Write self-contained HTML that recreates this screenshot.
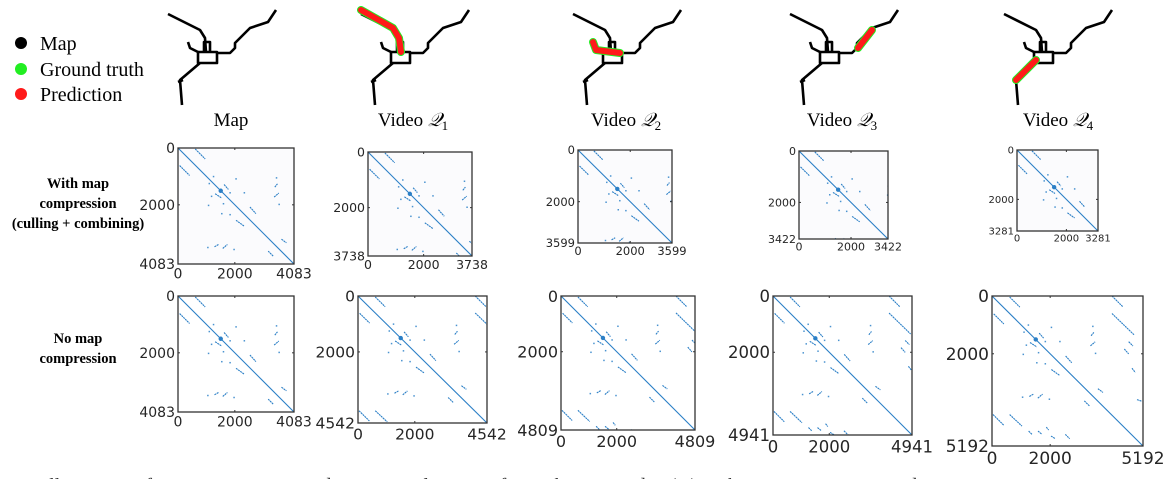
<!DOCTYPE html>
<html><head><meta charset="utf-8"><style>
html,body{margin:0;padding:0;background:#fff;}
svg{display:block;}
.serif{font-family:"Liberation Serif",serif;}
.tick{font-family:"DejaVu Sans","Liberation Sans",sans-serif;fill:#262626;}
</style></head><body>
<svg id="fig" width="1170" height="479" viewBox="0 0 1170 479" xmlns="http://www.w3.org/2000/svg">
<g>
  <circle cx="21" cy="43" r="6" fill="#000"/>
  <text class="serif" x="40" y="50" font-size="20">Map</text>
  <circle cx="21" cy="69" r="6" fill="#22ee22"/>
  <text class="serif" x="40" y="76" font-size="20">Ground truth</text>
  <circle cx="21" cy="94" r="6" fill="#ff1a1a"/>
  <text class="serif" x="40" y="101" font-size="20">Prediction</text>
</g>
<g class="serif" font-weight="bold" font-size="14.5" text-anchor="middle">
  <text x="78" y="188">With map</text>
  <text x="78" y="208">compression</text>
  <text x="78" y="228">(culling + combining)</text>
</g>
<g class="serif" font-weight="bold" font-size="14.5" text-anchor="middle">
  <text x="78" y="343">No map</text>
  <text x="78" y="363">compression</text>
</g>
<g id="maps"></g>
<g id="mats"></g>
<text class="serif" x="2" y="492" font-size="20" fill="#333">g. 3: Illustration of map compression and sequence alignment for each query video (Q) with map compression and</text>
</svg>
<script>
// ---- Data ----
const panelSizes = [4083, 3738, 3599, 3422, 3281, 4083, 4542, 4809, 4941, 5192];
const panelTitles = ["Map", "Video Q1", "Video Q2", "Video Q3", "Video Q4"];
const midTick = 2000;
// off-diagonal alignment segments in index units [x1,y1,x2,y2]
const segX1 = [607, 58, 1622, 1307, 3407, 3384, 2532, 2042, 1284, 1575, 3641, 3174, 4126, 4126, 4699, 4550, 4813, 4985, 34, 607, 1260, 1581, 1868, 2028, 2521];
const segY1 = [35, 618, 1284, 1610, 1377, 1727, 2077, 2544, 3478, 3536, 3209, 3629, 0, 607, 1581, 1834, 2498, 3587, 4103, 4103, 4675, 4675, 4538, 4847, 4790];
const segX2 = [957, 408, 1774, 1540, 3501, 3547, 2742, 2334, 1424, 1739, 3816, 3349, 4504, 4893, 4847, 4699, 4927, 5157, 401, 1031, 1375, 1719, 1948, 2177, 2670];
const segY2 = [385, 968, 1459, 1762, 1260, 1587, 2310, 2754, 3396, 3396, 3337, 3804, 378, 1352, 1730, 2005, 2647, 3644, 4469, 4504, 4790, 4790, 4641, 4939, 4939];
const dotX = [1249, 2042, 2334, 1832, 1540, 1832, 1074, 1599, 3559, 3466, 1050, 1972, 1100, 1180];
const dotY = [1004, 1085, 1575, 1575, 2310, 2345, 2019, 1960, 1984, 1050, 3501, 3571, 1250, 1700];
const blobIdx = 1505;

// ---- Layout (not data) ----
const boxes = [[178,148,116,116,14],[368,152,104,104,12.5],[578,150,94,93,11.5],[799,151,89,88,11],[1017,150,81,81,10],
               [178,296,116,116,14],[358,296,129,127,15.5],[561,296,134,134,16],[773,296,139,139,16.5],[992,296,151,150,17]];
const mapOffsets = [0, 193, 405, 622, 836];
const titleCenters = [231, 413, 626, 842, 1058];

const NS = "http://www.w3.org/2000/svg";
function el(tag, attrs, parent){const e=document.createElementNS(NS,tag);for(const k in attrs)e.setAttribute(k,attrs[k]);parent.appendChild(e);return e;}

// ---- road maps ----
const roads = [
 "M168,14 L200,30 L205,38 L206,52",
 "M204,52 L204,42 L210,42 L210,53",
 "M198,52 L217,52 L217,63 L198,63 Z",
 "M217,53 L230,53 L235,48 L235,43 L250,28 L268,22 L276,10",
 "M200,63 L180,80 L182,105",
 "M183,80 L178,82",
 "M188,42 L190,48 L198,52"
];
const overlays = [null,
 "M168,10 L200,28 L206,38 L208,52",
 "M188,42 L191,50 L215,53",
 "M236,48 L250,30",
 "M180,80 L200,60"];
const maps = document.getElementById('maps');
for(let i=0;i<5;i++){
  const g = el('g',{transform:`translate(${mapOffsets[i]},0)`},maps);
  
  
  roads.forEach(d=>el('path',{d:d,fill:'none',stroke:'#000','stroke-width':2.6,'stroke-linejoin':'round'},g));
  if(overlays[i]){
    el('path',{d:overlays[i],fill:'none',stroke:'#22ee22','stroke-width':8,'stroke-linecap':'round','stroke-linejoin':'round'},g);
    el('path',{d:overlays[i],fill:'none',stroke:'#ff1a1a','stroke-width':6,'stroke-linecap':'round','stroke-linejoin':'round'},g);
  }
  const t = el('text',{x:titleCenters[i],y:126,'font-size':19,'text-anchor':'middle','class':'serif'},maps);
  
  
  if(i===0){t.textContent='Map';}
  else{t.textContent='Video ';const s=el('tspan',{'font-style':'italic'},t);s.textContent='𝒬';const sub=el('tspan',{'font-size':13,dy:4},t);sub.textContent=String(i);}
}

// ---- matrices ----
const mats = document.getElementById('mats');
panelSizes.forEach((N,p)=>{
  const [bx,by,bw,bh,fs]=boxes[p];
  const sx=v=>bx+v/N*bw, sy=v=>by+v/N*bh;
  const g=el('g',{},mats);
  
  
  const cid='c'+p;
  const cp=el('clipPath',{id:cid},g);el('rect',{x:bx,y:by,width:bw,height:bh},cp);
  el('rect',{x:bx,y:by,width:bw,height:bh,fill:p<5?'#fbfbfd':'#fff'},g);
  const inner=el('g',{'clip-path':`url(#${cid})`},g);
  const diag=el('line',{x1:sx(0),y1:sy(0),x2:sx(N),y2:sy(N),stroke:'#2b7fc6','stroke-width':1.1},inner);
  
  
  for(let k=0;k<segX1.length;k++){
    if(Math.min(segX1[k],segX2[k])>N||Math.min(segY1[k],segY2[k])>N) continue;
    const l=el('line',{x1:sx(segX1[k]),y1:sy(segY1[k]),x2:sx(segX2[k]),y2:sy(segY2[k]),stroke:'#2b7fc6','stroke-width':1.1,'stroke-dasharray':'2 0.6'},inner);
    
    
  }
  for(let k=0;k<dotX.length;k++){
    const c=el('rect',{x:sx(dotX[k])-0.7,y:sy(dotY[k])-0.7,width:1.5,height:1.5,fill:'#4a93d0'},inner);
    
    
  }
  const b=el('circle',{cx:sx(blobIdx),cy:sy(blobIdx),r:2.2,fill:'#2b7fc6'},inner);
  
  
  el('rect',{x:bx,y:by,width:bw,height:bh,fill:'none',stroke:'#333','stroke-width':1.3},g);
  el('line',{x1:sx(midTick),y1:by+bh,x2:sx(midTick),y2:by+bh-2,stroke:'#333'},g);
  el('line',{x1:sx(midTick),y1:by,x2:sx(midTick),y2:by+2,stroke:'#333'},g);
  el('line',{x1:bx,y1:sy(midTick),x2:bx+2,y2:sy(midTick),stroke:'#333'},g);
  el('line',{x1:bx+bw,y1:sy(midTick),x2:bx+bw-2,y2:sy(midTick),stroke:'#333'},g);
  const yt=[0,midTick,N];
  const ya=el('g',{},g);
  
  
  yt.forEach(v=>{const t=el('text',{x:bx-3,y:sy(v)+fs*0.36,'font-size':fs,'text-anchor':'end','class':'tick'},ya);t.textContent=v;});
  const xa=el('g',{},g);
  
  
  yt.forEach(v=>{const t=el('text',{x:sx(v),y:by+bh+fs*1.05,'font-size':fs,'text-anchor':'middle','class':'tick'},xa);t.textContent=v;});
});
</script>
</body></html>
